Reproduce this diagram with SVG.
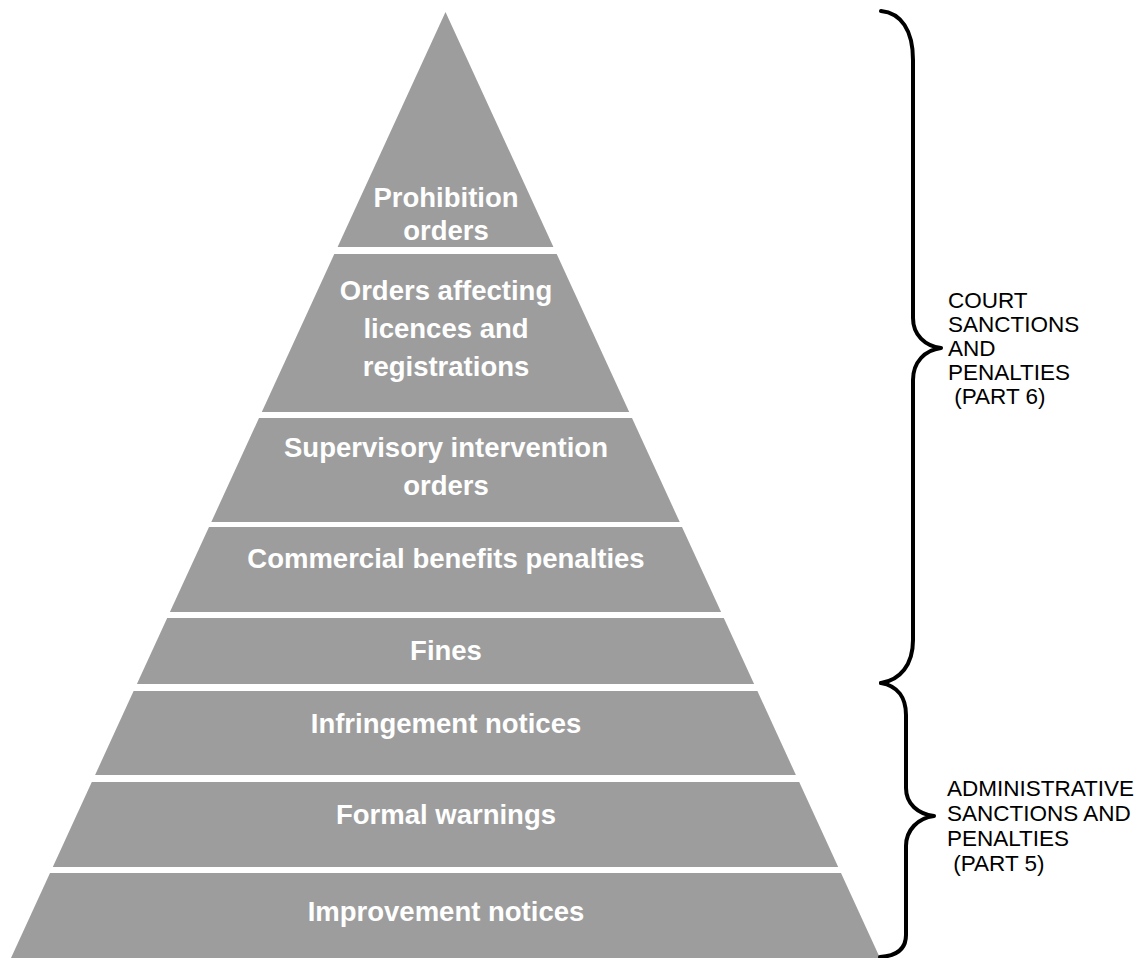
<svg xmlns="http://www.w3.org/2000/svg" width="1146" height="958" viewBox="0 0 1146 958">
<style>
.band{fill:#9d9d9d;}
.lbl{font-family:"Liberation Sans",Arial,sans-serif;font-weight:bold;font-size:27.5px;fill:#ffffff;text-anchor:middle;}
.side{font-family:"Liberation Sans",Arial,sans-serif;font-size:22.5px;fill:#000000;}
.brace{fill:none;stroke:#000000;stroke-width:4;stroke-linecap:round;stroke-linejoin:round;}
</style>
<rect width="1146" height="958" fill="#ffffff"/>
<g id="band-prohibition">
<polygon class="band" points="445.5,12 553.4,247 337.6,247"/>
<text class="lbl" x="446" y="207">Prohibition</text>
<text class="lbl" x="446" y="240">orders</text>
</g>
<g id="band-orders-licences">
<polygon class="band" points="334.3,254 556.7,254 629.2,412 261.8,412"/>
<text class="lbl" x="446" y="300">Orders affecting</text>
<text class="lbl" x="446" y="338">licences and</text>
<text class="lbl" x="446" y="376">registrations</text>
</g>
<g id="band-supervisory">
<polygon class="band" points="259,418 632,418 679.7,522 211.3,522"/>
<text class="lbl" x="446" y="457">Supervisory intervention</text>
<text class="lbl" x="446" y="495">orders</text>
</g>
<g id="band-commercial">
<polygon class="band" points="209,527 682,527 721.1,612 169.9,612"/>
<text class="lbl" x="446" y="568">Commercial benefits penalties</text>
</g>
<g id="band-fines">
<polygon class="band" points="167.2,618 723.8,618 754.1,684 136.9,684"/>
<text class="lbl" x="446" y="660">Fines</text>
</g>
<g id="band-infringement">
<polygon class="band" points="133.6,691 757.4,691 795.9,775 95.1,775"/>
<text class="lbl" x="446" y="733">Infringement notices</text>
</g>
<g id="band-formal">
<polygon class="band" points="91.8,782 799.2,782 838.2,867 52.8,867"/>
<text class="lbl" x="446" y="824">Formal warnings</text>
</g>
<g id="band-improvement">
<polygon class="band" points="50,873 841,873 880,958 11,958"/>
<text class="lbl" x="446" y="921">Improvement notices</text>
</g>
<g id="connectors">
<path class="brace" d="M881,11 C901,13 913,30 913,60 L913,318 C913,335 925,346 941,348 C925,350 913,362 913,380 L913,640 C913,665 900,680 881,683"/>
<path class="brace" d="M881,683 C898,686 906,698 906,715 L906,788 C906,804 918,814 934,816 C918,818 906,830 906,846 L906,935 C906,950 896,956 880,957"/>
</g>
<g id="court-label">
<text class="side" x="948" y="308">COURT</text>
<text class="side" x="948" y="332">SANCTIONS</text>
<text class="side" x="948" y="356">AND</text>
<text class="side" x="948" y="380">PENALTIES</text>
<text class="side" x="948" y="404" xml:space="preserve"> (PART 6)</text>
</g>
<g id="admin-label">
<text class="side" x="947" y="796">ADMINISTRATIVE</text>
<text class="side" x="947" y="821">SANCTIONS AND</text>
<text class="side" x="947" y="846">PENALTIES</text>
<text class="side" x="947" y="871" xml:space="preserve"> (PART 5)</text>
</g>
</svg>
